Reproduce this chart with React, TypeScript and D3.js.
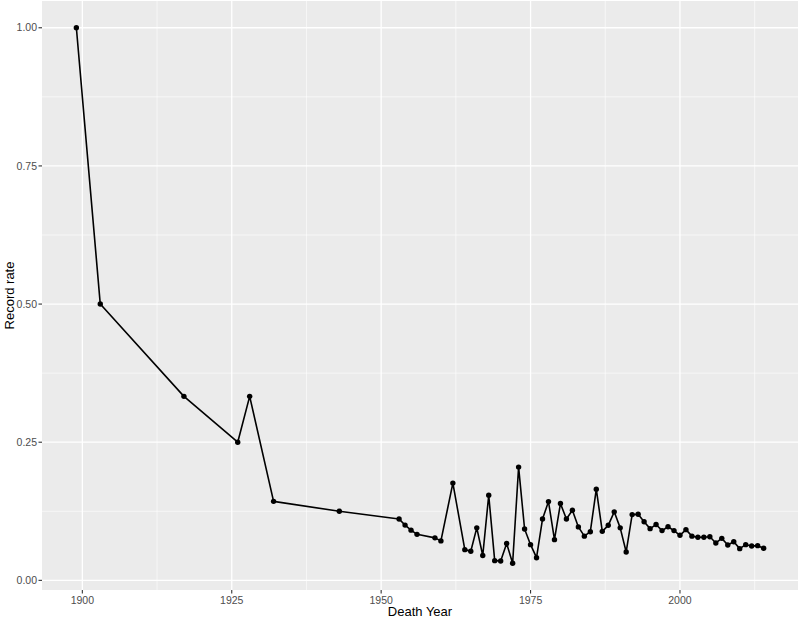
import React from "react";
import * as d3 from "d3";

const years: number[] = [
  1899, 1903, 1917, 1926, 1928, 1932, 1943, 1953, 1954, 1955, 1956, 1959, 1960,
  1962, 1964, 1965, 1966, 1967, 1968, 1969, 1970, 1971, 1972, 1973, 1974, 1975,
  1976, 1977, 1978, 1979, 1980, 1981, 1982, 1983, 1984, 1985, 1986, 1987, 1988,
  1989, 1990, 1991, 1992, 1993, 1994, 1995, 1996, 1997, 1998, 1999, 2000, 2001,
  2002, 2003, 2004, 2005, 2006, 2007, 2008, 2009, 2010, 2011, 2012, 2013, 2014,
];

const rates: number[] = [
  1.0, 0.5, 0.333, 0.25, 0.333, 0.143, 0.125, 0.111, 0.1, 0.0909, 0.0833, 0.0769, 0.0714,
  0.176, 0.0556, 0.0526, 0.095, 0.045, 0.154, 0.0357, 0.035, 0.0667, 0.031, 0.205, 0.093, 0.0646,
  0.041, 0.111, 0.1425, 0.0737, 0.139, 0.111, 0.127, 0.0967, 0.08, 0.088, 0.165, 0.0887, 0.0996,
  0.124, 0.095, 0.0514, 0.119, 0.1195, 0.106, 0.0936, 0.101, 0.09, 0.097, 0.09, 0.0815, 0.0918,
  0.08, 0.078, 0.078, 0.079, 0.0677, 0.076, 0.064, 0.07, 0.0574, 0.0646, 0.0623, 0.0628, 0.058,
];

const xTicks: number[] = [1900, 1925, 1950, 1975, 2000];
const xMinor: number[] = [1912.5, 1937.5, 1962.5, 1987.5, 2012.5];
const yTicks: number[] = [0, 0.25, 0.5, 0.75, 1.0];
const yMinor: number[] = [0.125, 0.375, 0.625, 0.875];

const W = 800;
const H = 620;
const panel = { left: 42, right: 798, top: 1, bottom: 590 };

export default function App() {
  const data = years.map((y, i) => ({ year: y, rate: rates[i] }));
  const xExt = d3.extent(years) as [number, number];
  const yExt = d3.extent(rates) as [number, number];
  const xr = xExt[1] - xExt[0];
  const yr = yExt[1] - yExt[0];
  const x = d3
    .scaleLinear()
    .domain([xExt[0] - 0.05 * xr, xExt[1] + 0.05 * xr])
    .range([panel.left, panel.right]);
  const y = d3
    .scaleLinear()
    .domain([yExt[0] - 0.05 * yr, yExt[1] + 0.05 * yr])
    .range([panel.bottom, panel.top]);

  const line = d3
    .line<{ year: number; rate: number }>()
    .x((d) => x(d.year))
    .y((d) => y(d.rate));

  const font = "'Liberation Sans', Arial, sans-serif";
  const pw = panel.right - panel.left;
  const ph = panel.bottom - panel.top;

  return (
    <svg
      width={W}
      height={H}
      style={{ position: "absolute", left: 0, top: 0, background: "#fff" }}
      fontFamily={font}
    >
      <rect x={panel.left} y={panel.top} width={pw} height={ph} fill="#EBEBEB" />
      {yMinor.map((v) => (
        <line key={"ym" + v} x1={panel.left} x2={panel.right} y1={y(v)} y2={y(v)} stroke="#fff" strokeWidth={0.6} />
      ))}
      {xMinor.map((v) => (
        <line key={"xm" + v} x1={x(v)} x2={x(v)} y1={panel.top} y2={panel.bottom} stroke="#fff" strokeWidth={0.6} />
      ))}
      {yTicks.map((v) => (
        <line key={"yM" + v} x1={panel.left} x2={panel.right} y1={y(v)} y2={y(v)} stroke="#fff" strokeWidth={1.3} />
      ))}
      {xTicks.map((v) => (
        <line key={"xM" + v} x1={x(v)} x2={x(v)} y1={panel.top} y2={panel.bottom} stroke="#fff" strokeWidth={1.3} />
      ))}
      <path d={line(data) || ""} fill="none" stroke="#000" strokeWidth={1.6} strokeLinejoin="round" />
      {data.map((d) => (
        <circle key={d.year} cx={x(d.year)} cy={y(d.rate)} r={2.7} fill="#000" />
      ))}
      {yTicks.map((v) => (
        <g key={"yt" + v}>
          <line x1={panel.left - 3.5} x2={panel.left} y1={y(v)} y2={y(v)} stroke="#333" strokeWidth={1.1} />
          <text x={panel.left - 5} y={y(v)} dy="0.35em" textAnchor="end" fontSize={10.5} fill="#4D4D4D">
            {v.toFixed(2)}
          </text>
        </g>
      ))}
      {xTicks.map((v) => (
        <g key={"xt" + v}>
          <line x1={x(v)} x2={x(v)} y1={panel.bottom} y2={panel.bottom + 3.5} stroke="#333" strokeWidth={1.1} />
          <text x={x(v)} y={panel.bottom + 14} textAnchor="middle" fontSize={10.5} fill="#4D4D4D">
            {v}
          </text>
        </g>
      ))}
      <text x={(panel.left + panel.right) / 2} y={616} textAnchor="middle" fontSize={13} fill="#000">
        Death Year
      </text>
      <text
        transform={`translate(14, ${(panel.top + panel.bottom) / 2}) rotate(-90)`}
        textAnchor="middle"
        fontSize={13}
        fill="#000"
      >
        Record rate
      </text>
    </svg>
  );
}
